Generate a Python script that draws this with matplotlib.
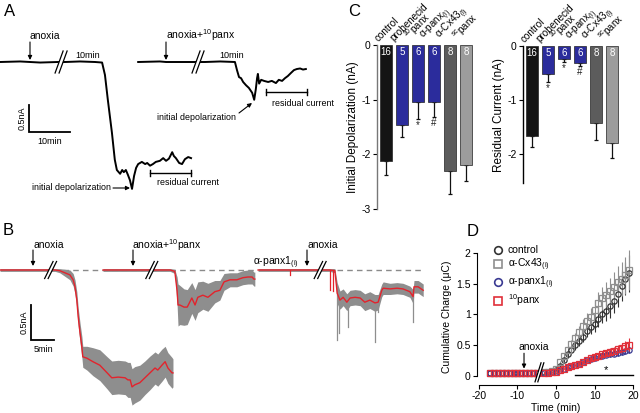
import numpy as np
import matplotlib
matplotlib.use('Agg')
import matplotlib.pyplot as plt
from matplotlib.patches import Polygon
from matplotlib.lines import Line2D

plt.rcParams['font.family'] = ['Liberation Sans', 'DejaVu Sans']
plt.rcParams['mathtext.fontset'] = 'custom'
plt.rcParams['mathtext.rm'] = 'Liberation Sans'
plt.rcParams['mathtext.it'] = 'Liberation Sans:italic'
plt.rcParams['mathtext.bf'] = 'Liberation Sans:bold'
plt.rcParams['mathtext.default'] = 'regular'
plt.rcParams['axes.unicode_minus'] = False

W, H = 640, 413

# ---------------- A: single-cell traces (min, nA) ----------------
a1_t = [0.0, 4.9, 9.8, 14.1, 15.9, 19.5, 23.2, 24.9, 25.6, 26.3, 27.3, 28.0, 28.5, 29.3,
        29.8, 30.2, 30.7, 31.2, 31.7, 32.2, 32.7, 33.2, 33.7, 34.6, 35.4, 35.9, 36.6,
        37.3, 38.0, 39.0, 39.8, 40.5, 41.2, 42.0, 42.4, 42.9, 43.7, 44.4, 45.1, 45.9, 46.6]
a1_i = [0.0, 0.01, -0.01, 0.0, 0.0, 0.01, 0.0, -0.01, -0.24, -0.70, -1.31, -1.81, -2.0,
        -2.07, -2.0, -2.04, -2.0, -2.09, -2.19, -2.35, -2.11, -1.96, -1.89, -1.85, -1.89,
        -1.87, -1.92, -1.89, -1.85, -1.83, -1.78, -1.83, -1.79, -1.67, -1.74, -1.78,
        -1.87, -1.89, -1.80, -1.76, -1.78]
a2_t = [33.7, 39.0, 40.5, 43.9, 47.8, 50.0, 53.7, 57.3, 57.8, 58.3, 58.8, 59.3, 60.0,
        60.7, 61.5, 62.0, 62.4, 62.7, 62.9, 63.2, 63.7, 64.4, 65.4, 66.3, 67.3, 68.0,
        68.8, 69.5, 70.2, 71.0, 71.7, 72.4, 73.2, 73.9, 74.6]
a2_i = [0.0, 0.01, 0.0, 0.0, 0.0, 0.0, 0.01, 0.0, -0.15, -0.28, -0.30, -0.37, -0.43,
        -0.48, -0.57, -0.70, -0.50, -0.30, -0.22, -0.40, -0.33, -0.35, -0.37, -0.35,
        -0.39, -0.33, -0.35, -0.30, -0.26, -0.20, -0.15, -0.13, -0.12, -0.14, -0.13]
a_breaks = [14.9, 48.3]
a_resid_win = [(36.6, 46.6, -2.06), (64.9, 74.9, -0.56)]

# ---------------- B: mean +/- sem traces (min, nA) ----------------
b1_t = [0, 4.35, 8.7, 9.8, 12.0, 13.0, 14.1, 15.2, 15.9, 16.3, 16.7, 17.0, 17.4, 17.8,
        18.0, 18.9, 20.2, 21.7, 23.3, 24.3, 25.7, 27.2, 27.8, 28.3, 28.7, 29.3, 30.4,
        31.5, 32.6, 33.7, 34.3, 35.2, 35.9, 36.5, 37.4, 37.6]
b1_i = [0, 0, 0, 0, 0, -0.01, -0.04, -0.07, -0.14, -0.24, -0.43, -0.67, -0.90, -1.10,
        -1.24, -1.26, -1.31, -1.36, -1.47, -1.54, -1.53, -1.54, -1.57, -1.57, -1.67,
        -1.64, -1.61, -1.54, -1.47, -1.40, -1.43, -1.36, -1.31, -1.40, -1.47, -1.47]
b1_sem = [0.02, 0.02, 0.02, 0.02, 0.02, 0.03, 0.05, 0.07, 0.09, 0.10, 0.12, 0.13, 0.14,
          0.15, 0.15, 0.17, 0.20, 0.22, 0.23, 0.24, 0.24, 0.24, 0.25, 0.25, 0.26, 0.26,
          0.25, 0.24, 0.24, 0.23, 0.23, 0.23, 0.22, 0.22, 0.22, 0.20]
b2_t = [22.4, 26.1, 28.9, 31.5, 33.7, 37.0, 38.0, 38.5, 38.7, 39.1, 40.0, 40.7, 41.7,
        42.4, 43.0, 44.1, 45.2, 46.7, 47.8, 48.7, 50.0, 51.5, 52.8, 53.9, 54.8, 55.2, 55.4]
b2_i = [0, 0, 0, 0, 0, 0, -0.02, -0.3, -0.5, -0.5, -0.53, -0.53, -0.4, -0.5, -0.39,
        -0.36, -0.39, -0.31, -0.29, -0.17, -0.14, -0.14, -0.11, -0.10, -0.10, -0.13, -0.13]
b2_sem = [0.02, 0.02, 0.02, 0.02, 0.02, 0.02, 0.03, 0.2, 0.3, 0.28, 0.26, 0.25, 0.22,
          0.22, 0.22, 0.2, 0.2, 0.16, 0.14, 0.12, 0.1, 0.1, 0.1, 0.1, 0.1, 0.1, 0.1]
b3_t = [56.1, 60.9, 65.2, 68.0, 70.2, 71.7, 72.8, 73.3, 73.9, 74.6, 75.4, 76.1, 77.2,
        78.3, 79.3, 80.4, 81.5, 82.2, 83.0, 83.3, 84.8, 86.3, 87.6, 89.1, 89.8, 90.0,
        90.9, 92.0]
b3_i = [0, 0, 0, 0, 0, 0, -0.01, -0.33, -0.43, -0.39, -0.46, -0.40, -0.39, -0.40, -0.46,
        -0.43, -0.47, -0.46, -0.29, -0.26, -0.27, -0.26, -0.27, -0.31, -0.38, -0.24,
        -0.24, -0.29]
b3_sem = [0.02, 0.02, 0.02, 0.02, 0.02, 0.02, 0.03, 0.15, 0.13, 0.12, 0.12, 0.11, 0.11,
          0.11, 0.12, 0.12, 0.12, 0.11, 0.09, 0.09, 0.08, 0.08, 0.08, 0.08, 0.1, 0.09,
          0.09, 0.09]
b3_spike_t = [63.0, 71.7, 72.4, 73.3, 73.7, 75.7, 81.5, 82.2, 89.8]
b3_spike_i = [-0.07, -0.29, -0.30, -1.0, -0.9, -0.81, -1.03, -0.6, -0.74]
b_breaks = [11.0, 33.0, 69.6]
b_dashed = [(13.7, 55.4), (73.2, 91.7)]

# ---------------- C: bar summaries ----------------
c_groups = ['control', 'probenecid', '$^{10}$panx', 'α-panx$_{(i)}$', 'α-Cx43$_{(i)}$',
            '$^{sc}$panx']
c_n = [16, 5, 6, 6, 8, 8]
c_colors = ['#141414', '#2b2c9c', '#2b2c9c', '#2b2c9c', '#5c5c5c', '#9c9c9c']
init_depol = [-2.13, -1.46, -1.05, -1.05, -2.31, -2.20]
init_depol_err = [0.25, 0.22, 0.30, 0.26, 0.41, 0.28]
init_sig = ['', '', '*', '#', '', '']
resid = [-1.66, -0.52, -0.24, -0.31, -1.42, -1.79]
resid_err = [0.22, 0.15, 0.06, 0.06, 0.32, 0.28]
resid_sig = ['', '*', '*', '#', '', '']

# ---------------- D: cumulative charge (min, uC) ----------------
d_t_pre = [-17, -16, -15, -14, -13, -12, -11, -10, -9, -8, -7, -6, -5]
d_t_post = [-3, -2, -1, 0, 1, 2, 3, 4, 5, 6, 7, 8, 9, 10, 11, 12, 13, 14, 15, 16, 17, 18, 19]
ctrl_pre = [0.05, 0.05, 0.05, 0.05, 0.05, 0.05, 0.05, 0.05, 0.05, 0.05, 0.05, 0.05, 0.05]
ctrl_post = [0.06, 0.06, 0.07, 0.10, 0.17, 0.26, 0.35, 0.43, 0.50, 0.57, 0.64, 0.73, 0.79,
             0.84, 0.92, 1.00, 1.06, 1.13, 1.22, 1.34, 1.47, 1.58, 1.67]
ctrl_sem = [0.01, 0.01, 0.01, 0.02, 0.03, 0.04, 0.05, 0.06, 0.07, 0.08, 0.09, 0.10, 0.11,
            0.12, 0.13, 0.14, 0.16, 0.18, 0.20, 0.22, 0.25, 0.27, 0.30]
cx43_pre = [0.05, 0.05, 0.05, 0.05, 0.05, 0.05, 0.05, 0.05, 0.05, 0.05, 0.05, 0.05, 0.05]
cx43_post = [0.06, 0.06, 0.08, 0.12, 0.22, 0.33, 0.42, 0.52, 0.62, 0.72, 0.81, 0.90, 0.96,
             1.08, 1.19, 1.26, 1.32, 1.38, 1.45, 1.52, 1.58, 1.64, 1.72]
cx43_sem = [0.01, 0.01, 0.01, 0.02, 0.03, 0.04, 0.05, 0.07, 0.08, 0.10, 0.11, 0.13, 0.14,
            0.16, 0.18, 0.19, 0.20, 0.22, 0.24, 0.26, 0.28, 0.30, 0.33]
panx1_pre = [0.05, 0.05, 0.05, 0.05, 0.05, 0.05, 0.05, 0.05, 0.05, 0.05, 0.05, 0.05, 0.05]
panx1_post = [0.05, 0.05, 0.06, 0.07, 0.09, 0.12, 0.14, 0.16, 0.18, 0.20, 0.23, 0.26, 0.28,
              0.30, 0.32, 0.33, 0.34, 0.35, 0.36, 0.37, 0.39, 0.41, 0.42]
panx1_sem = [0.01, 0.01, 0.01, 0.01, 0.01, 0.01, 0.01, 0.02, 0.02, 0.02, 0.02, 0.02, 0.03,
             0.03, 0.03, 0.03, 0.03, 0.04, 0.04, 0.04, 0.05, 0.05, 0.05]
p10_pre = [0.05, 0.05, 0.05, 0.05, 0.05, 0.05, 0.05, 0.05, 0.05, 0.05, 0.05, 0.05, 0.05]
p10_post = [0.05, 0.05, 0.06, 0.07, 0.09, 0.12, 0.14, 0.16, 0.18, 0.20, 0.23, 0.26, 0.29,
            0.31, 0.33, 0.35, 0.37, 0.39, 0.41, 0.44, 0.46, 0.48, 0.51]
p10_sem = [0.01, 0.01, 0.01, 0.01, 0.01, 0.01, 0.02, 0.02, 0.02, 0.03, 0.03, 0.03, 0.04,
           0.04, 0.04, 0.05, 0.05, 0.06, 0.06, 0.07, 0.08, 0.09, 0.10]
d_sig_span = (5, 20)

fig = plt.figure(figsize=(W / 100, H / 100), dpi=100)


def px_axes(x0, y0, x1, y1):
    return fig.add_axes([x0 / W, 1 - y1 / H, (x1 - x0) / W, (y1 - y0) / H])


def ftext(x, y, s, **kw):
    kw.setdefault('fontsize', 7.5)
    kw.setdefault('va', 'center')
    fig.text(x / W, 1 - y / H, s, **kw)


def farrow(x0, y0, x1, y1):
    # arrow in figure pixels (top-left origin), tail -> head
    fig.add_artist(plt.Annotation('', xy=(x1 / W, 1 - y1 / H), xycoords='figure fraction',
                                  xytext=(x0 / W, 1 - y0 / H), textcoords='figure fraction',
                                  arrowprops=dict(arrowstyle='-|>', color='k', lw=0.8,
                                                  mutation_scale=6, shrinkA=0, shrinkB=0)))


def px_scale(ax):
    pos = ax.get_position()
    x0, x1 = ax.get_xlim()
    y0, y1 = ax.get_ylim()
    return (x1 - x0) / (pos.width * W), (y1 - y0) / (pos.height * H)


def draw_break(ax, xc, yc, half_h=10, slant=4, gap=3.5, lw=0.9):
    sx, sy = px_scale(ax)
    dx, dy, g = slant * sx, half_h * sy, gap * sx
    l0, l1 = (xc - g / 2 - dx, yc - dy), (xc - g / 2 + dx, yc + dy)
    r0, r1 = (xc + g / 2 - dx, yc - dy), (xc + g / 2 + dx, yc + dy)
    ax.add_patch(Polygon([l0, l1, r1, r0], closed=True, fc='white', ec='none', zorder=6,
                         clip_on=False))
    for p, q in ((l0, l1), (r0, r1)):
        ax.plot([p[0], q[0]], [p[1], q[1]], color='k', lw=lw, zorder=7, clip_on=False)


def scale_bar(ax, t0, i0, dt, di):
    ax.plot([t0, t0, t0 + dt], [i0 + di, i0, i0], color='k', lw=1.3,
            solid_joinstyle='miter')


# ================= Panel A =================
axA = px_axes(0, 0, 330, 200)
axA.set_xlim(0, 330 / 4.1)
axA.set_ylim((62 - 200) / 54, 62 / 54)
axA.axis('off')
axA.plot(a1_t, a1_i, color='k', lw=1.4)
axA.plot(a2_t, a2_i, color='k', lw=1.4)
for bt in a_breaks:
    draw_break(axA, bt, 0, half_h=11, slant=4, gap=4)
sx, sy = px_scale(axA)
for t0, t1, lvl in a_resid_win:
    axA.plot([t0, t1], [lvl, lvl], color='k', lw=1)
    axA.plot([t0, t0], [lvl - 3 * sy, lvl + 3 * sy], color='k', lw=1)
    axA.plot([t1, t1], [lvl - 3 * sy, lvl + 3 * sy], color='k', lw=1)
scale_bar(axA, 29 / 4.1, (62 - 132) / 54, 10, 0.5)

ftext(4, 12, 'A', fontsize=12)
ftext(29, 36, 'anoxia')
farrow(30, 42, 30, 60)
ftext(75, 55, '10min', fontsize=6.5)
ftext(166, 35, 'anoxia+$^{10}$panx')
farrow(166, 42, 166, 60)
ftext(219, 55, '10min', fontsize=6.5)
ftext(22, 118, '0.5nA', fontsize=6.5, rotation=90, ha='center')
ftext(50, 141, '10min', fontsize=6.5, ha='center')
ftext(32, 188, 'initial depolarization', fontsize=6.4)
farrow(113, 188, 130, 188)
ftext(157, 183, 'residual current', fontsize=6.4)
ftext(157, 118, 'initial depolarization', fontsize=6.4)
farrow(239, 113, 252, 103)
ftext(272, 103, 'residual current', fontsize=6.4)

# ================= Panel B =================
axB = px_axes(0, 232, 440, 413)
axB.set_xlim(0, 440 / 4.6)
axB.set_ylim((270 - 413) / 70, (270 - 232) / 70)
axB.axis('off')
for t0, t1 in b_dashed:
    axB.plot([t0, t1], [0, 0], color='#8a8a8a', lw=1, dashes=(4, 3), zorder=1)
for tt, ii, ss in ((b1_t, b1_i, b1_sem), (b2_t, b2_i, b2_sem), (b3_t, b3_i, b3_sem)):
    tt, ii, ss = np.array(tt), np.array(ii), np.array(ss)
    axB.fill_between(tt, ii - ss, ii + ss, color='#8e8e8e', lw=0, zorder=2)
    axB.plot(tt, ii, color='#e3232c', lw=1, zorder=3)
for st, si in zip(b3_spike_t, b3_spike_i):
    base = np.interp(st, b3_t, b3_i)
    col = '#e3232c' if st < 73 else '#8e8e8e'
    axB.plot([st, st], [base, si], color=col, lw=0.9, zorder=2)
for bt in b_breaks:
    draw_break(axB, bt, 0, half_h=8.5, slant=4.2, gap=3.5)
scale_bar(axB, 31 / 4.6, (270 - 340) / 70, 5, 0.5)

ftext(3, 230, 'B', fontsize=12)
ftext(33, 245, 'anoxia')
farrow(33, 250, 33, 266)
ftext(132, 245, 'anoxia+$^{10}$panx')
farrow(133, 250, 133, 266)
ftext(253, 263, 'α-panx1$_{(i)}$')
ftext(307, 245, 'anoxia')
farrow(307, 250, 307, 266)
ftext(24, 322, '0.5nA', fontsize=6.5, rotation=90, ha='center')
ftext(43, 349, '5min', fontsize=6.5, ha='center')


# ================= Panel C =================
def bar_panel(ax, vals, errs, sigs, ylabel, ymin, yticks):
    ax.set_ylim(ymin, 0)
    ax.set_xlim(-0.5625, 5.75)
    x = np.arange(len(vals))
    ax.bar(x, vals, width=0.75, color=c_colors, edgecolor='#222222', lw=0.5, zorder=2)
    for xi, v, e in zip(x, vals, errs):
        ax.errorbar(xi, v, yerr=[[e], [0]], fmt='none', ecolor='#111111', elinewidth=0.9,
                    capsize=1.2, capthick=0.9, zorder=1)
    sx, sy = px_scale(ax)
    for xi, v, e, s in zip(x, vals, errs, sigs):
        if s:
            ax.text(xi, v - e - 6 * sy, s, ha='center', va='center', fontsize=7,
                    color='#222222')
    for xi, n in zip(x, c_n):
        ax.text(xi, -7 * sy, str(n), ha='center', va='center', fontsize=7, color='white')
    for xi, g in zip(x, c_groups):
        ax.annotate(g, xy=(xi - 0.4, 0), xytext=(0, 1.5), textcoords='offset points',
                    rotation=45, rotation_mode='anchor', ha='left', va='bottom',
                    fontsize=7.1, annotation_clip=False)
    ax.set_yticks(yticks)
    ax.set_yticklabels([str(t) for t in yticks])
    for sp in ('top', 'right', 'bottom'):
        ax.spines[sp].set_visible(False)
    ax.spines['left'].set_linewidth(1)
    ax.set_xticks([])
    ax.tick_params(axis='y', length=3, width=0.8, labelsize=7.5, pad=1.5)
    ax.set_ylabel(ylabel, fontsize=8.5, labelpad=2)


axC1 = px_axes(377, 45, 478, 209)
bar_panel(axC1, init_depol, init_depol_err, init_sig, 'Initial Depolarization (nA)', -3,
          [0, -1, -2, -3])
axC1.spines['left'].set_color('#777777')
axC2 = px_axes(523, 46, 624, 183)
bar_panel(axC2, resid, resid_err, resid_sig, 'Residual Current (nA)', -2.54, [0, -1, -2])
ftext(348, 12, 'C', fontsize=12)

# ================= Panel D =================
axD = px_axes(477, 248, 635, 385)
axD.set_xlim(-20.5, 20.5)
axD.set_ylim(-0.146, 2.08)
d_series = [
    ('control', ctrl_pre, ctrl_post, ctrl_sem, '#333333', 'o'),
    ('α-Cx43$_{(i)}$', cx43_pre, cx43_post, cx43_sem, '#8f8f8f', 's'),
    ('α-panx1$_{(i)}$', panx1_pre, panx1_post, panx1_sem, '#3a3a92', 'o'),
    ('$^{10}$panx', p10_pre, p10_post, p10_sem, '#e0303a', 's'),
]
handles = []
for lab, pre, post, sem, col, mk in d_series:
    axD.plot(d_t_pre, pre, ls='none', marker=mk, ms=3.8, mfc='none', mec=col, mew=0.9)
    axD.errorbar(d_t_post, post, yerr=sem, fmt=mk, ms=3.8, mfc='none', mec=col, mew=0.9,
                 ecolor=col, elinewidth=0.8, capsize=0)
    handles.append(Line2D([], [], ls='none', marker=mk, ms=5.5, mfc='none', mec=col,
                          mew=1.2, label=lab))
axD.plot(d_sig_span, [0.01, 0.01], color='k', lw=1)
axD.text(np.mean(d_sig_span) + 0.5, 0.09, '*', ha='center', va='center', fontsize=8)
draw_break(axD, -4.3, 0.06, half_h=9.5, slant=3, gap=2.8)
axD.text(-5.7, 0.47, 'anoxia', ha='center', va='center', fontsize=7.5)
axD.annotate('', xy=(-8.3, 0.12), xytext=(-8.3, 0.37),
             arrowprops=dict(arrowstyle='-|>', color='k', lw=0.8, mutation_scale=6,
                             shrinkA=0, shrinkB=0))
for sp in ('top', 'right'):
    axD.spines[sp].set_visible(False)
axD.spines['left'].set_bounds(0, 2)
axD.spines['bottom'].set_bounds(-20, 20)
axD.set_xticks([-20, -10, 0, 10, 20])
axD.set_yticks([0, 0.5, 1, 1.5, 2])
axD.set_yticklabels(['0', '0.5', '1', '1.5', '2'])
axD.tick_params(length=3, width=0.8, labelsize=7.5, pad=1.5)
axD.set_xlabel('Time (min)', fontsize=7.5, labelpad=1)
axD.set_ylabel('Cumulative Charge (μC)', fontsize=7.5, labelpad=3)
axD.legend(handles=handles, loc='upper left', bbox_to_anchor=(489 / W, 1 - 240 / H),
           bbox_transform=fig.transFigure, frameon=False, fontsize=7.5, handlelength=0.8,
           handletextpad=0.5, labelspacing=0.15, borderpad=0)
ftext(467, 232, 'D', fontsize=12)

fig.savefig('out.png', dpi=100)
